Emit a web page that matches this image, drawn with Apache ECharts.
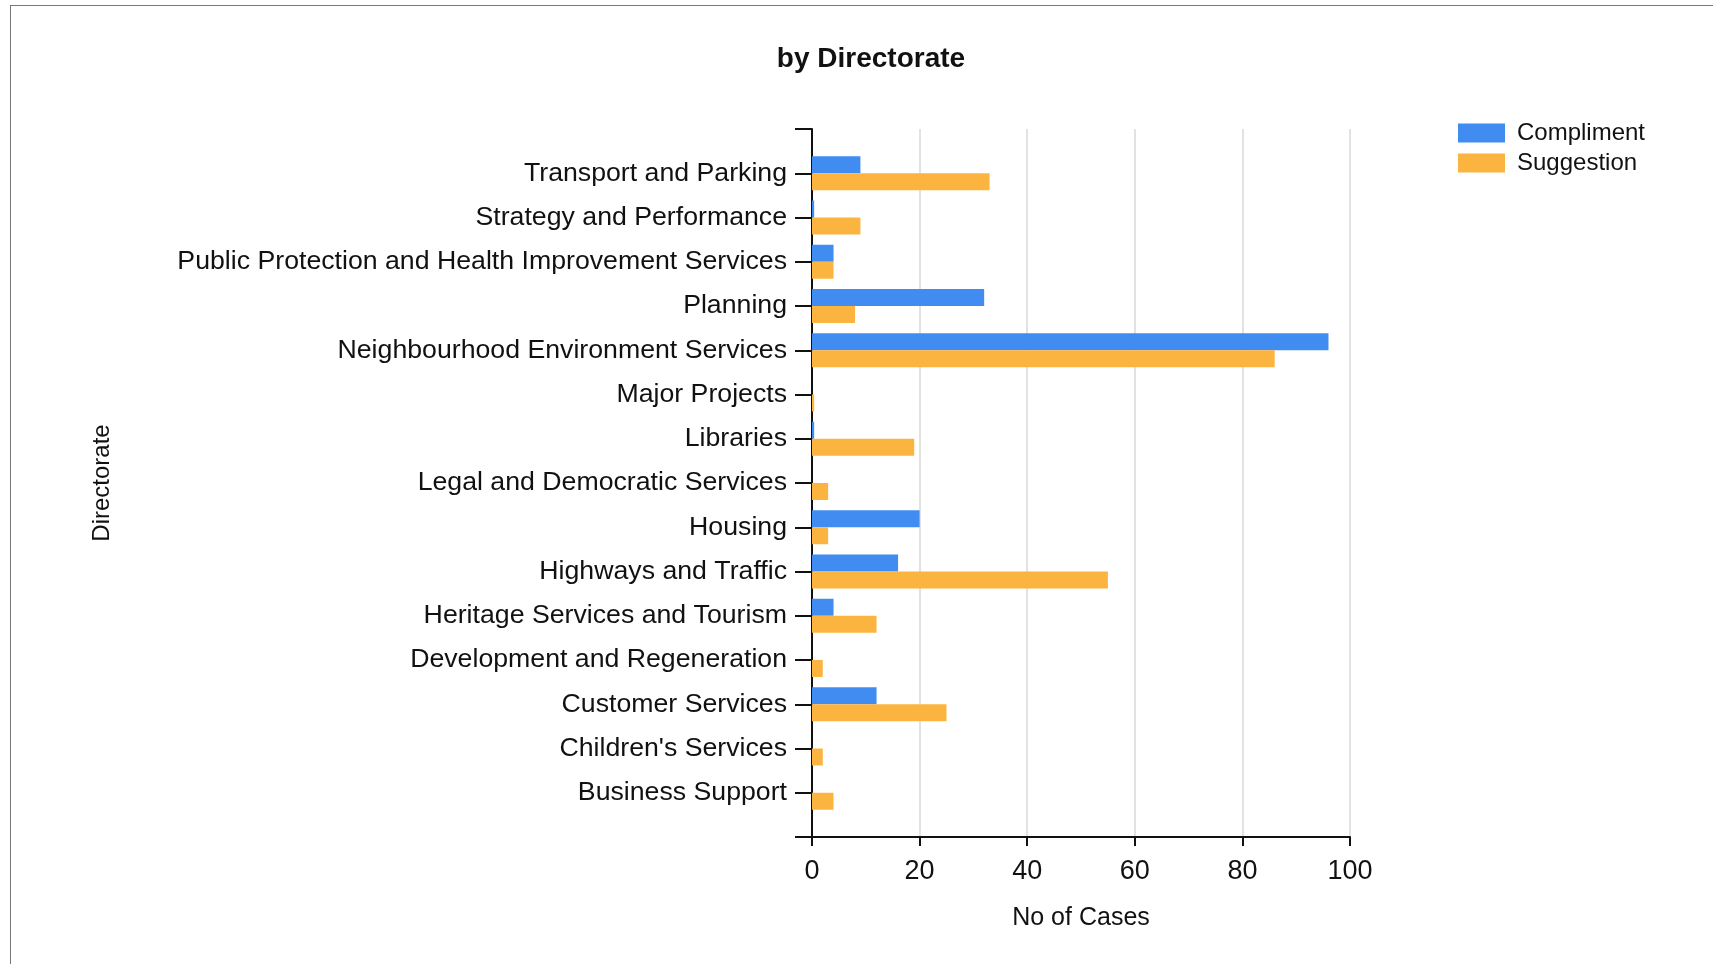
<!DOCTYPE html>
<html>
<head>
<meta charset="utf-8">
<title>by Directorate</title>
<script src="https://cdn.jsdelivr.net/npm/echarts@6/dist/echarts.min.js"></script>
<style>
	html, body {margin: 0; padding: 0; background: #fff; overflow: hidden;}
	#frame {position: absolute; left: 10px; top: 5px; width: 3000px; height: 3000px; border-top: 1px solid #777; border-left: 1px solid #777;}
	#chart {position: absolute; left: 0; top: 0; width: 1713px; height: 964px;}
</style>
</head>
<body>
<div id="frame"></div>
<div id="chart"></div>
<script type="text/javascript">
	// directorates, top to bottom
	var categories = [
		'Transport and Parking',
		'Strategy and Performance',
		'Public Protection and Health Improvement Services',
		'Planning',
		'Neighbourhood Environment Services',
		'Major Projects',
		'Libraries',
		'Legal and Democratic Services',
		'Housing',
		'Highways and Traffic',
		'Heritage Services and Tourism',
		'Development and Regeneration',
		'Customer Services',
		"Children's Services",
		'Business Support'
	];
	var compliment = [9, 0.4, 4, 32, 96, 0, 0.4, 0, 20, 16, 4, 0, 12, 0, 0];
	var suggestion = [33, 9, 4, 8, 86, 0.4, 19, 3, 3, 55, 12, 2, 25, 2, 4];
	var xTicks = [0, 20, 40, 60, 80, 100];

	var font = "'Liberation Sans', Arial, sans-serif";
	// empty slot at each end so the axis runs half a row past the bars
	var yCats = [''].concat(categories, ['']);
	function pad(arr) {
		return ['-'].concat(arr, ['-']);
	}

	var option = {
		animation: false,
		title: {
			text: 'by Directorate',
			left: 866,
			textAlign: 'center',
			top: 40,
			textStyle: {fontFamily: font, fontSize: 28, fontWeight: 'bold', color: '#111'}
		},
		legend: {
			orient: 'vertical',
			left: 1453,
			top: 116,
			icon: 'rect',
			itemWidth: 47,
			itemHeight: 19,
			itemGap: 6,
			textStyle: {fontFamily: font, fontSize: 24, color: '#111', padding: [0, 0, 0, 7]},
			data: ['Compliment', 'Suggestion']
		},
		grid: {
			left: 812,
			right: 363,
			top: 129,
			bottom: 127
		},
		xAxis: {
			type: 'value',
			min: xTicks[0],
			max: xTicks[xTicks.length - 1],
			interval: 20,
			name: 'No of Cases',
			nameLocation: 'middle',
			nameGap: 69,
			nameTextStyle: {fontFamily: font, fontSize: 25, color: '#111'},
			axisLine: {show: true, lineStyle: {color: '#111', width: 2}},
			axisTick: {show: true, length: 9, lineStyle: {color: '#111', width: 2}},
			axisLabel: {fontFamily: font, fontSize: 27, color: '#111', margin: 21},
			splitLine: {show: true, lineStyle: {color: '#d9d9d9', width: 1.5}}
		},
		yAxis: {
			type: 'category',
			inverse: true,
			boundaryGap: false,
			data: yCats,
			name: 'Directorate',
			nameLocation: 'middle',
			nameGap: 698,
			nameTextStyle: {fontFamily: font, fontSize: 24, color: '#111'},
			axisLine: {show: true, lineStyle: {color: '#111', width: 2}},
			axisTick: {show: true, length: 17, interval: 0, lineStyle: {color: '#111', width: 2}},
			axisLabel: {fontFamily: font, fontSize: 26.7, color: '#111', margin: 25, interval: 0, padding: [6, 0, 0, 0]},
			splitLine: {show: false}
		},
		series: [
			{
				name: 'Compliment',
				type: 'bar',
				barWidth: 17,
				barGap: '0%',
				itemStyle: {color: '#418CF0'},
				data: pad(compliment)
			},
			{
				name: 'Suggestion',
				type: 'bar',
				barWidth: 17,
				barGap: '0%',
				itemStyle: {color: '#FCB441'},
				data: pad(suggestion)
			}
		]
	};
	var myChart = echarts.init(document.getElementById('chart'));
	myChart.setOption(option);
</script>
</body>
</html>
